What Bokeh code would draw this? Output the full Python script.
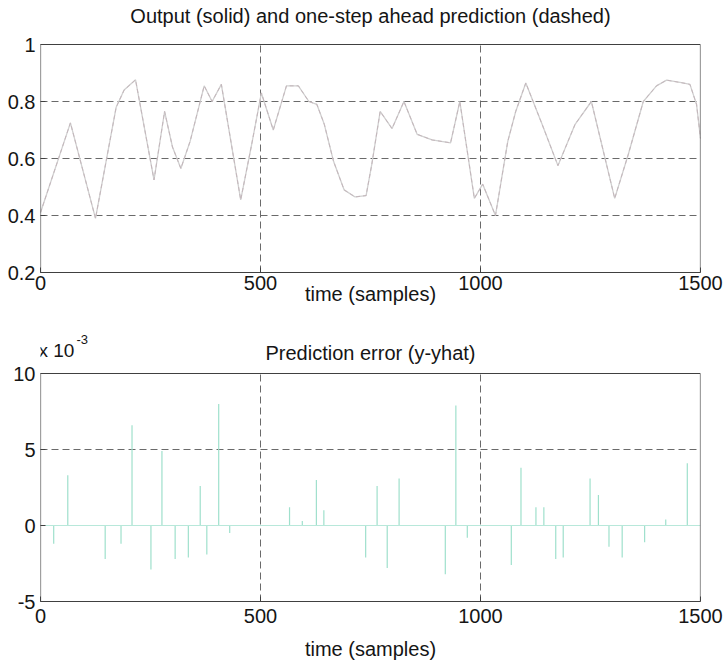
from bokeh.plotting import figure
from bokeh.layouts import column
from bokeh.models import Range1d, FixedTicker, Label
from bokeh.embed import file_html
from bokeh.resources import INLINE

# ---- data ----
out_t = [0, 68, 125, 172, 190, 216, 258, 282, 300, 319, 340, 372, 390, 411, 455,
         480, 502, 529, 559, 586, 610, 628, 645, 666, 690, 715, 740, 753, 772, 799,
         826, 856, 890, 932, 953, 986, 1005, 1034, 1062, 1080, 1103, 1140, 1176,
         1215, 1252, 1305, 1336, 1370, 1400, 1423, 1460, 1476, 1491, 1500]
out_y = [0.41, 0.725, 0.39, 0.78, 0.84, 0.876, 0.525, 0.765, 0.64, 0.565, 0.66,
         0.855, 0.80, 0.86, 0.455, 0.65, 0.83, 0.70, 0.855, 0.855, 0.80, 0.79,
         0.72, 0.59, 0.49, 0.465, 0.47, 0.58, 0.765, 0.705, 0.80, 0.685, 0.665,
         0.655, 0.80, 0.46, 0.51, 0.40, 0.66, 0.765, 0.865, 0.72, 0.575, 0.72,
         0.80, 0.46, 0.615, 0.80, 0.855, 0.875, 0.865, 0.86, 0.79, 0.67]
pred_t = out_t
pred_y = out_y

err_t = [30, 62, 147, 183, 208, 251, 276, 306, 336, 363, 378, 405, 430, 566, 595,
         627, 644, 739, 765, 788, 815, 920, 944, 970, 1070, 1092, 1126, 1144, 1171,
         1188, 1249, 1268, 1292, 1322, 1373, 1421, 1470]
err_v = [-1.2, 3.3, -2.2, -1.2, 6.6, -2.9, 4.9, -2.2, -2.1, 2.6, -1.9, 8.0, -0.5,
         1.2, 0.3, 3.0, 1.0, -2.1, 2.6, -2.8, 3.1, -3.2, 7.9, -0.8, -2.6, 3.8, 1.2,
         1.2, -2.2, -2.1, 3.1, 2.0, -1.4, -2.1, -1.1, 0.4, 4.1]
err_zero = [0] * len(err_t)

x_min, x_max = 0, 1500
x_ticks = [0, 500, 1000, 1500]
x_grid = [500, 1000]
y1_min, y1_max = 0.2, 1.0
y1_ticks = [0.2, 0.4, 0.6, 0.8, 1.0]
y1_labels = ["0.2", "0.4", "0.6", "0.8", "1"]
y1_grid = [0.4, 0.6, 0.8]
y2_min, y2_max = -5, 10
y2_ticks = [-5, 0, 5, 10]
y2_labels = ["-5", "0", "5", "10"]
y2_grid = [0, 5]

title1 = "Output (solid) and one-step ahead prediction (dashed)"
title2 = "Prediction error (y-yhat)"
xlabel = "time (samples)"
scale_note = "x 10"
scale_exp = "-3"

FONT = "Liberation Sans"
TXT = "#151515"
FS = "20px"
GRID = "#6a6a6a"
FRAME = "#404040"
BOX_PX = 228  # height of each axes box in pixels


def make_panel(height, y_min, y_max, yt, yl, yg, head_px, border_bottom,
               tick_standoff, label_standoff):
    # the plotting area reaches head_px above the axes box, so the title
    # (and the exponent note) can be placed there as text
    px_per_unit = BOX_PX / (y_max - y_min)
    p = figure(width=723, height=height, output_backend="svg",
               toolbar_location=None, x_range=Range1d(x_min, x_max),
               y_range=Range1d(y_min, y_max + head_px / px_per_unit),
               min_border_left=40, min_border_right=23,
               min_border_top=height - border_bottom - BOX_PX - head_px,
               min_border_bottom=border_bottom)
    p.xaxis.ticker = FixedTicker(ticks=x_ticks)
    p.yaxis.ticker = FixedTicker(ticks=yt)
    p.yaxis.major_label_overrides = {t: l for t, l in zip(yt, yl)}
    p.xgrid.grid_line_color = None
    p.ygrid.ticker = FixedTicker(ticks=yg)
    p.ygrid.grid_line_color = GRID
    p.ygrid.grid_line_dash = "7 4"
    for ax in (p.xaxis, p.yaxis):
        ax.major_label_text_font = FONT
        ax.major_label_text_font_size = FS
        ax.major_label_text_color = TXT
        ax.axis_label_text_font = FONT
        ax.axis_label_text_font_size = FS
        ax.axis_label_text_font_style = "normal"
        ax.axis_label_text_color = TXT
        ax.major_tick_in = 5
        ax.major_tick_out = 0
        ax.minor_tick_line_color = None
        ax.major_tick_line_color = FRAME
    p.xaxis.axis_line_color = FRAME
    p.yaxis.axis_line_color = None
    p.xaxis.major_label_standoff = tick_standoff
    p.yaxis.major_label_standoff = 5
    p.xaxis.axis_label = xlabel
    p.xaxis.axis_label_standoff = label_standoff
    p.outline_line_color = None
    p.background_fill_color = "white"
    p.border_fill_color = "white"
    # vertical grid lines limited to the axes box
    p.segment(x0=x_grid, y0=[y_min] * len(x_grid), x1=x_grid,
              y1=[y_max] * len(x_grid), line_color=GRID, line_dash="7 4",
              line_width=1)
    return p


def frame_box(p, y_min, y_max):
    p.quad(left=[x_min], right=[x_max], bottom=[y_min], top=[y_max],
           fill_color=None, line_color=FRAME, line_width=1.2)


def text(p, y, s, size=FS, x=None, x_offset=0, y_offset=0, align="left"):
    p.add_layout(Label(x=x_min if x is None else x, y=y, text=s,
                       x_offset=x_offset, y_offset=y_offset,
                       text_font=FONT, text_font_size=size, text_align=align,
                       text_color=TXT, text_baseline="alphabetic"))


# ---- top panel ----
p1 = make_panel(330, y1_min, y1_max, y1_ticks, y1_labels, y1_grid,
                head_px=41, border_bottom=58, tick_standoff=3, label_standoff=-10)
p1.line(out_t, out_y, line_color="#d0d0d0", line_width=1.3)
p1.line(pred_t, pred_y, line_color="#c4b6bb", line_width=1.0, line_dash="4 3")
frame_box(p1, y1_min, y1_max)
text(p1, y1_max, title1, x=(x_min + x_max) / 2, y_offset=29, align="center")

# ---- bottom panel ----
p2 = make_panel(333, y2_min, y2_max, y2_ticks, y2_labels, y2_grid,
                head_px=40, border_bottom=62, tick_standoff=7, label_standoff=12)
p2.segment(x0=err_t, y0=err_zero, x1=err_t, y1=err_v, line_color="#9fe0cc",
           line_width=1.2)
p2.line([x_min, x_max], [0, 0], line_color="#b8e8da", line_width=1)
frame_box(p2, y2_min, y2_max)
text(p2, y2_max, title2, x=(x_min + x_max) / 2, y_offset=21, align="center")
text(p2, y2_max, scale_note, size="19px", x_offset=-2, y_offset=23)
text(p2, y2_max, scale_exp, size="13px", x_offset=36, y_offset=34)

layout = column(p1, p2, spacing=0)
open("out.html", "w").write(file_html(layout, INLINE))
